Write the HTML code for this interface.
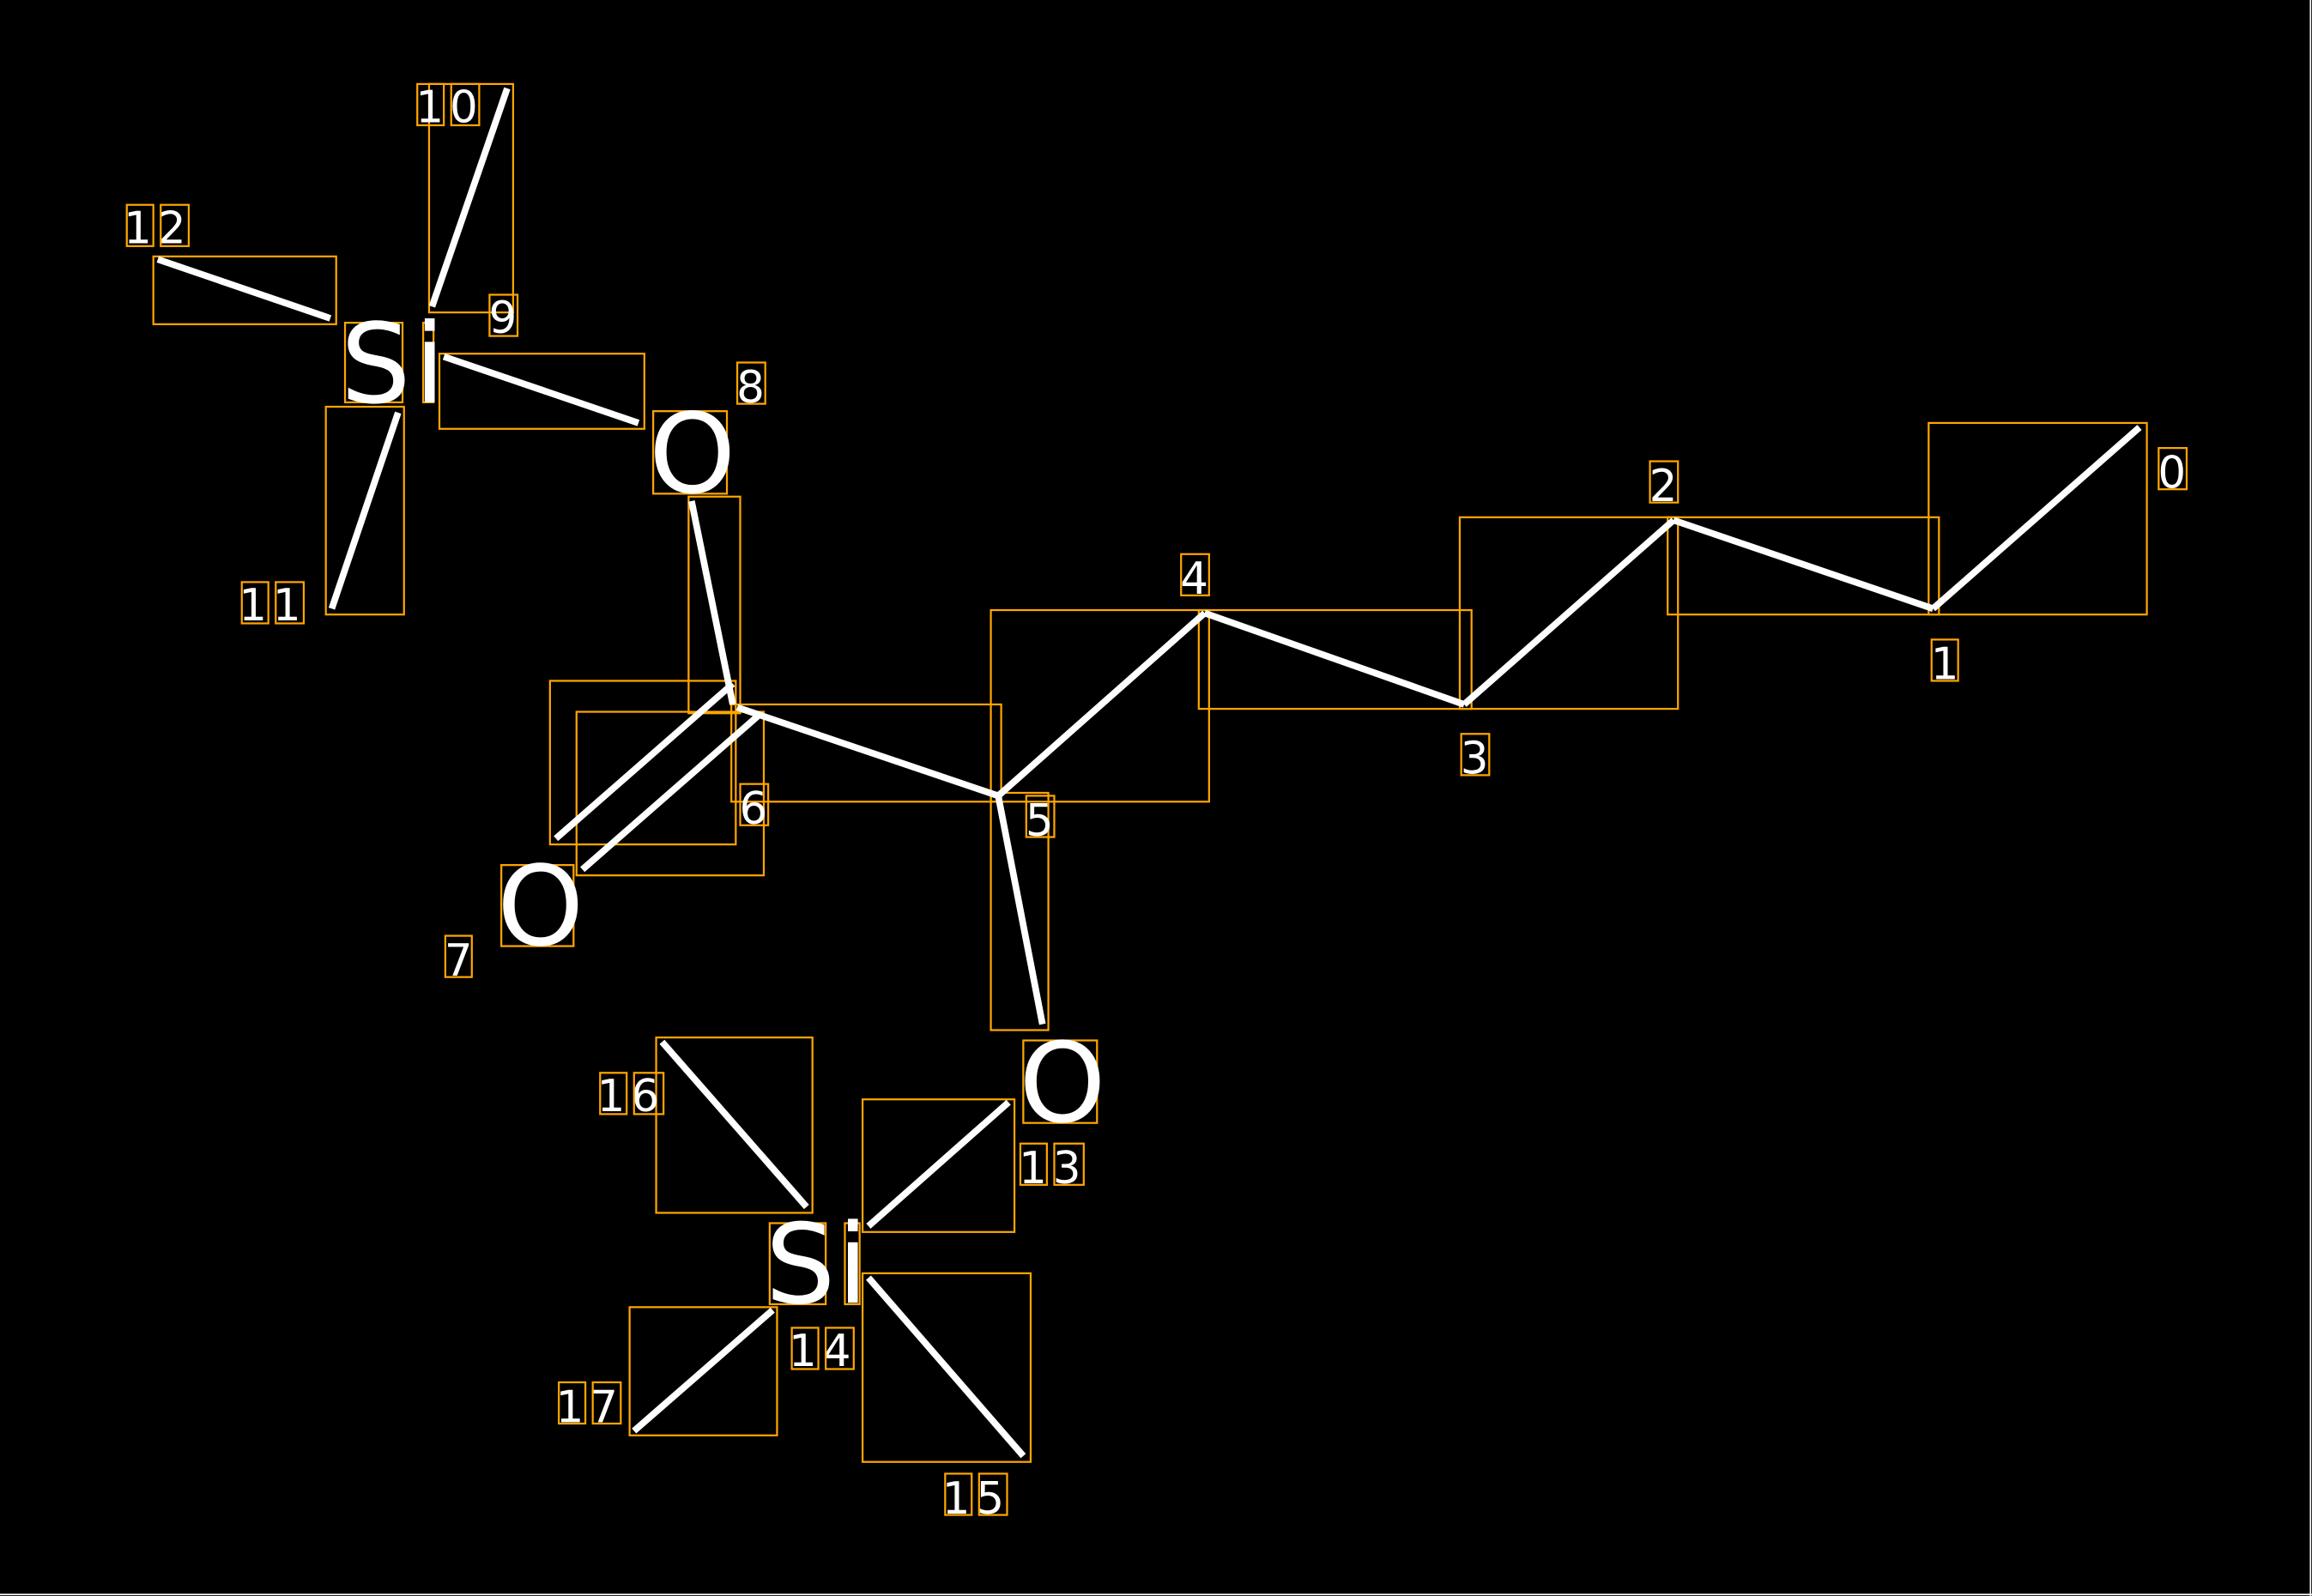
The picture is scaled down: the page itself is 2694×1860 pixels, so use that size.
<!DOCTYPE html>
<html><head><meta charset="utf-8"><style>html,body{margin:0;padding:0;background:#000;}svg{display:block}</style></head>
<body>
<svg width="2694" height="1860" viewBox="0 0 1568 1083" preserveAspectRatio="none" xmlns="http://www.w3.org/2000/svg">
<rect x="0" y="0" width="1568" height="1083" fill="#000"/>
<line x1="1567" y1="0" x2="1567" y2="1083" stroke="#fff" stroke-width="1"/>
<line x1="0" y1="1082" x2="1568" y2="1082" stroke="#fff" stroke-width="1"/>
<g fill="none" stroke="#FFA500" stroke-width="1.3">
<rect x="1308" y="287" width="148" height="130"/>
<rect x="1131" y="351" width="184" height="66"/>
<rect x="990" y="351" width="148" height="130"/>
<rect x="813" y="414" width="185" height="67"/>
<rect x="672" y="414" width="148" height="130"/>
<rect x="496" y="478" width="183" height="66"/>
<rect x="373" y="462" width="126" height="111"/>
<rect x="391" y="483" width="127" height="111"/>
<rect x="467" y="337" width="35" height="147"/>
<rect x="298" y="240" width="139" height="51"/>
<rect x="291" y="57" width="57" height="155"/>
<rect x="221" y="276" width="53" height="141"/>
<rect x="104" y="174" width="124" height="46"/>
<rect x="672" y="538" width="39" height="161"/>
<rect x="585" y="746" width="103" height="90"/>
<rect x="585" y="864" width="114" height="128"/>
<rect x="445" y="704" width="106" height="119"/>
<rect x="427" y="887" width="100" height="87"/>
<rect x="443" y="279" width="50" height="56"/>
<rect x="340" y="587" width="49" height="55"/>
<rect x="234" y="219" width="39" height="54"/>
<rect x="287" y="219" width="7" height="54"/>
<rect x="694" y="706" width="50" height="56"/>
<rect x="522" y="830" width="38" height="55"/>
<rect x="573" y="830" width="10" height="55"/>
</g>
<g stroke="#fff" stroke-width="4.5" stroke-linecap="butt">
<line x1="1451" y1="290" x2="1311" y2="413"/>
<line x1="1311" y1="413" x2="1135" y2="353"/>
<line x1="1135" y1="353" x2="993" y2="478"/>
<line x1="993" y1="478" x2="817" y2="416"/>
<line x1="817" y1="416" x2="677" y2="540"/>
<line x1="677" y1="540" x2="500" y2="480"/>
<line x1="497" y1="464" x2="377" y2="569"/>
<line x1="515" y1="485" x2="395" y2="590"/>
<line x1="469" y1="340" x2="497" y2="478"/>
<line x1="433" y1="287" x2="301" y2="242"/>
<line x1="344" y1="60" x2="293" y2="208"/>
<line x1="270" y1="280" x2="225" y2="413"/>
<line x1="107" y1="176" x2="224" y2="216"/>
<line x1="677" y1="540" x2="707" y2="695"/>
<line x1="684" y1="748" x2="589" y2="832"/>
<line x1="589" y1="867" x2="694" y2="988"/>
<line x1="449" y1="707" x2="547" y2="819"/>
<line x1="524" y1="889" x2="430" y2="971"/>
</g>
<g fill="#fff" font-family="'DejaVu Sans',sans-serif" font-size="75">
<text x="440" y="334">O</text>
<text x="337" y="641">O</text>
<text x="691" y="761">O</text>
<text x="231" y="273">S</text>
<text x="281" y="273">i</text>
<text x="519" y="884">S</text>
<text x="568" y="884">i</text>
</g>
<g fill="#fff" font-family="'DejaVu Sans',sans-serif" font-size="30" text-anchor="middle">
<text x="1473" y="331">0</text>
<text x="1319" y="461">1</text>
<text x="1128" y="340">2</text>
<text x="1000" y="525">3</text>
<text x="810" y="403">4</text>
<text x="705" y="567">5</text>
<text x="511" y="559">6</text>
<text x="311" y="662">7</text>
<text x="509" y="273">8</text>
<text x="341" y="226">9</text>
<text x="305" y="83" letter-spacing="4">10</text>
<text x="185" y="421" letter-spacing="4">11</text>
<text x="107" y="165" letter-spacing="4">12</text>
<text x="714" y="803" letter-spacing="4">13</text>
<text x="558" y="927" letter-spacing="4">14</text>
<text x="662" y="1027" letter-spacing="4">15</text>
<text x="428" y="754" letter-spacing="4">16</text>
<text x="400" y="965" letter-spacing="4">17</text>
</g>
<g fill="none" stroke="#FFA500" stroke-width="1.3">
<rect x="1464" y="304" width="19" height="28"/>
<rect x="1310" y="434" width="18" height="28"/>
<rect x="1119" y="313" width="19" height="28"/>
<rect x="991" y="498" width="19" height="28"/>
<rect x="801" y="376" width="19" height="28"/>
<rect x="696" y="540" width="19" height="28"/>
<rect x="502" y="532" width="19" height="28"/>
<rect x="302" y="635" width="18" height="28"/>
<rect x="500" y="246" width="19" height="28"/>
<rect x="332" y="200" width="19" height="28"/>
<rect x="283" y="57" width="18" height="28"/><rect x="306" y="57" width="19" height="28"/>
<rect x="164" y="395" width="18" height="28"/><rect x="187" y="395" width="19" height="28"/>
<rect x="86" y="139" width="18" height="28"/><rect x="109" y="139" width="19" height="28"/>
<rect x="692" y="776" width="18" height="28"/><rect x="715" y="776" width="20" height="28"/>
<rect x="537" y="901" width="18" height="28"/><rect x="560" y="901" width="19" height="28"/>
<rect x="641" y="1000" width="18" height="28"/><rect x="664" y="1000" width="19" height="28"/>
<rect x="407" y="728" width="18" height="28"/><rect x="430" y="728" width="20" height="28"/>
<rect x="379" y="938" width="18" height="28"/><rect x="402" y="938" width="19" height="28"/>
</g>
</svg>
</body></html>
